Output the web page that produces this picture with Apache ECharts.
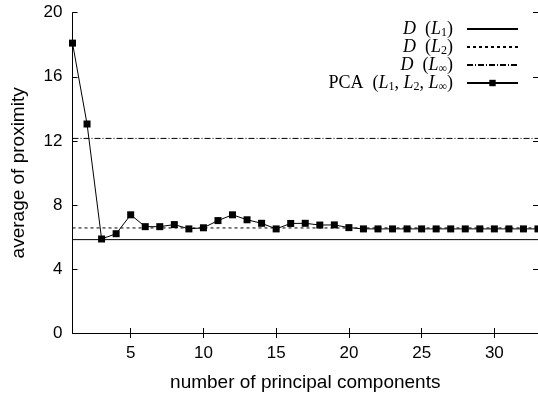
<!DOCTYPE html>
<html>
<head>
<meta charset="utf-8">
<script src="https://cdn.jsdelivr.net/npm/echarts@6/dist/echarts.min.js"></script>
<style>
  html, body { margin: 0; padding: 0; background: #fff; }
  #chart { width: 538px; height: 397px; }
</style>
</head>
<body>
<div id="chart"></div>
<script>
// number of principal components
const components = [1, 2, 3, 4, 5, 6, 7, 8, 9, 10, 11, 12, 13, 14, 15, 16, 17,
  18, 19, 20, 21, 22, 23, 24, 25, 26, 27, 28, 29, 30, 31, 32, 33];
// average of proximity for PCA
const pcaValues = [18.1, 13.05, 5.87, 6.2, 7.38, 6.64, 6.64, 6.77, 6.5, 6.57, 7.02,
  7.38, 7.07, 6.85, 6.5, 6.84, 6.85, 6.74, 6.75, 6.58, 6.5, 6.5, 6.5, 6.5, 6.5,
  6.5, 6.5, 6.5, 6.5, 6.5, 6.5, 6.5, 6.5];
// constant reference levels (original space)
const dL1 = 5.83;
const dL2 = 6.56;
const dLinf = 12.15;
const xTicks = [5, 10, 15, 20, 25, 30];
const xRange = [1, 33];

const chart = echarts.init(document.getElementById("chart"));

const flat = (v) => xRange.map((x) => [x, v]);
const tickFont = { fontFamily: "Liberation Sans", fontSize: 17, color: "#000" };
const nameFont = { fontFamily: "Liberation Sans", fontSize: 19, color: "#000" };

const legendText = {
  "D (L1)": "{i|D}  ({i|L}{s|1})",
  "D (L2)": "{i|D}  ({i|L}{s|2})",
  "D (Linf)": "{i|D}  ({i|L}{s|∞})",
  "PCA": "PCA  ({i|L}{s|1}, {i|L}{s|2}, {i|L}{s|∞})",
};
const noMark = { opacity: 0 };

const option = {
  animation: false,
  backgroundColor: "#fff",
  grid: { left: 72.5, right: 0, top: 12.7, bottom: 63.7 },
  legend: {
    right: 19,
    top: 19.5,
    padding: 0,
    orient: "vertical",
    align: "right",
    itemWidth: 51,
    itemHeight: 8,
    itemGap: -1,
    data: [
      { name: "D (L1)", itemStyle: noMark },
      { name: "D (L2)", itemStyle: noMark },
      { name: "D (Linf)", itemStyle: noMark },
      { name: "PCA" },
    ],
    formatter: (name) => legendText[name],
    textStyle: {
      fontFamily: "Liberation Serif",
      fontSize: 18,
      lineHeight: 18,
      color: "#000",
      padding: [0, 9, 0, 0],
      rich: {
        i: { fontFamily: "Liberation Serif", fontSize: 18, lineHeight: 18, fontStyle: "italic", color: "#000" },
        s: { fontFamily: "Liberation Serif", fontSize: 12, lineHeight: 18, color: "#000", padding: [7, 0, 0, 0] },
      },
    },
  },
  xAxis: [
    {
      type: "value",
      min: xRange[0],
      max: xRange[1],
      name: "number of principal components",
      nameLocation: "middle",
      nameGap: 40,
      nameTextStyle: nameFont,
      axisLine: { lineStyle: { color: "#000", width: 1 } },
      axisTick: { inside: true, length: 5, customValues: xTicks, lineStyle: { color: "#000" } },
      axisLabel: { ...tickFont, margin: 12, customValues: xTicks },
      splitLine: { show: false },
    },
    {
      type: "value",
      position: "top",
      min: xRange[0],
      max: xRange[1],
      axisLine: { lineStyle: { color: "#000", width: 1 } },
      axisTick: { inside: true, length: 5, customValues: xTicks, lineStyle: { color: "#000" } },
      axisLabel: { show: false },
      splitLine: { show: false },
    },
  ],
  yAxis: [
    {
      type: "value",
      min: 0,
      max: 20,
      interval: 4,
      name: "average of proximity",
      nameLocation: "middle",
      nameGap: 44,
      nameTextStyle: nameFont,
      axisLine: { show: true, lineStyle: { color: "#000", width: 1 } },
      axisTick: { show: true, inside: true, length: 5, lineStyle: { color: "#000" } },
      axisLabel: { ...tickFont, margin: 10 },
      splitLine: { show: false },
    },
    {
      type: "value",
      position: "right",
      min: 0,
      max: 20,
      interval: 4,
      axisLine: { show: false },
      axisTick: { show: true, inside: true, length: 5, lineStyle: { color: "#000" } },
      axisLabel: { show: false },
      splitLine: { show: false },
    },
  ],
  series: [
    {
      name: "D (L1)",
      type: "line",
      data: flat(dL1),
      symbol: "none",
      color: "#000",
      lineStyle: { color: "#000", width: 1 },
    },
    {
      name: "D (L2)",
      type: "line",
      data: flat(dL2),
      symbol: "none",
      color: "#000",
      lineStyle: { color: "#000", width: 1, type: [3, 3] },
    },
    {
      name: "D (Linf)",
      type: "line",
      data: flat(dLinf),
      symbol: "none",
      color: "#000",
      lineStyle: { color: "#000", width: 1, type: [6, 2, 1, 2] },
    },
    {
      name: "PCA",
      type: "line",
      data: components.map((x, i) => [x, pcaValues[i]]),
      symbol: "rect",
      symbolSize: 7,
      clip: false,
      color: "#000",
      itemStyle: { color: "#000" },
      lineStyle: { color: "#000", width: 1 },
      z: 5,
    },
  ],
};

chart.setOption(option);
</script>
</body>
</html>
